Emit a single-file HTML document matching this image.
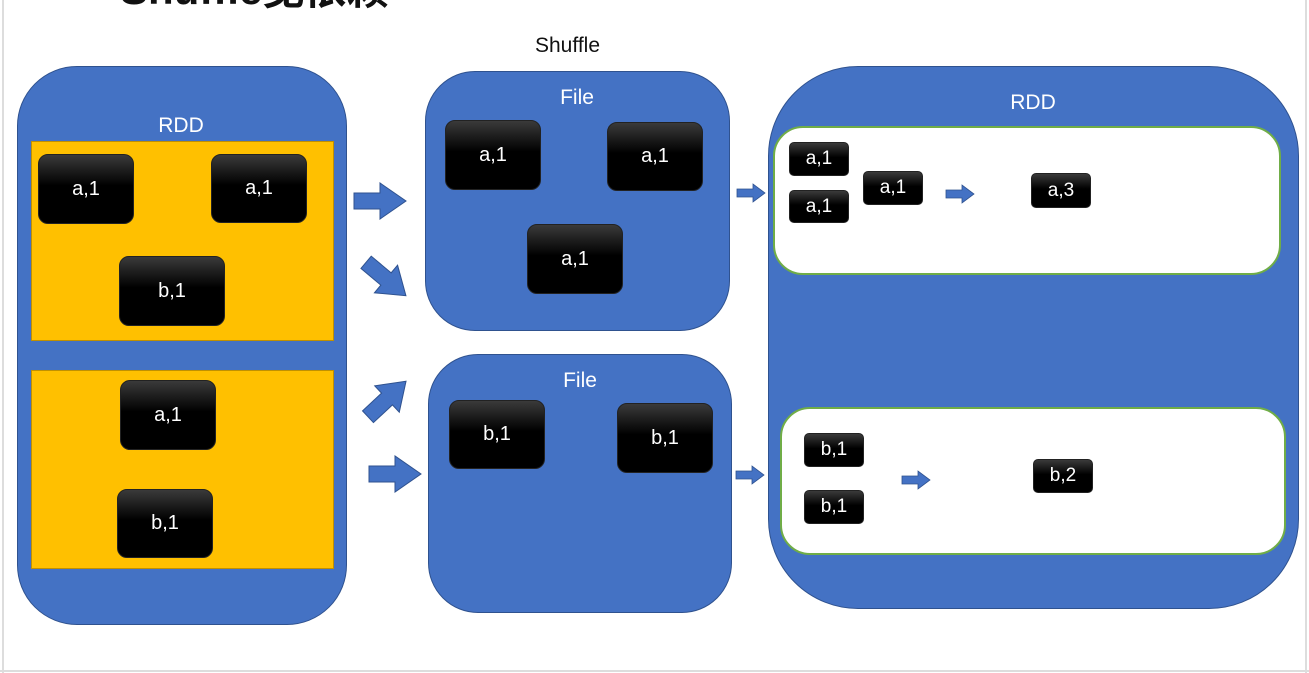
<!DOCTYPE html>
<html><head><meta charset="utf-8"><style>
body{margin:0;width:1309px;height:673px;background:#fff;position:relative;overflow:hidden;font-family:"Liberation Sans","Noto Sans CJK SC",sans-serif}
.a{position:absolute;box-sizing:border-box}
.blue{background:#4472C4;border:1.5px solid #2F528F}
.org{background:#FFC000;border:1.5px solid #C09000}
.wht{background:#fff;border:2px solid #70AD47;border-radius:30px}
.k{position:absolute;box-sizing:border-box;background:linear-gradient(#3a3a3a,#000 45%);border:1px solid #222;border-radius:10px;color:#fff;font-size:20px;display:flex;align-items:center;justify-content:center}
.ks{border-radius:5px;font-size:19px}
.lbl{position:absolute;color:#fff;font-size:21px;transform:translateX(-50%)}
</style></head><body>
<div class="a" style="left:2px;top:0;width:2px;height:673px;background:#ddd"></div>
<div class="a" style="left:1305px;top:0;width:2px;height:673px;background:#ddd"></div>
<div class="a" style="left:0;top:670px;width:1309px;height:2px;background:#ddd"></div>
<div class="a" style="left:120px;top:-44px;font-size:42px;font-weight:bold;color:#111;white-space:nowrap">Shuffle宽依赖</div>
<div class="a" style="left:535px;top:34px;font-size:21px;color:#111">Shuffle</div>

<div class="a blue" style="left:17px;top:66px;width:330px;height:559px;border-radius:60px"></div>
<div class="lbl" style="left:181px;top:114px">RDD</div>
<div class="a org" style="left:31px;top:141px;width:303px;height:200px"></div>
<div class="a org" style="left:31px;top:370px;width:303px;height:199px"></div>
<div class="k" style="left:38px;top:154px;width:96px;height:70px">a,1</div>
<div class="k" style="left:211px;top:154px;width:96px;height:69px">a,1</div>
<div class="k" style="left:119px;top:256px;width:106px;height:70px">b,1</div>
<div class="k" style="left:120px;top:380px;width:96px;height:70px">a,1</div>
<div class="k" style="left:117px;top:489px;width:96px;height:69px">b,1</div>

<div class="a blue" style="left:425px;top:71px;width:305px;height:260px;border-radius:50px"></div>
<div class="lbl" style="left:577px;top:86px">File</div>
<div class="k" style="left:445px;top:120px;width:96px;height:70px">a,1</div>
<div class="k" style="left:607px;top:122px;width:96px;height:69px">a,1</div>
<div class="k" style="left:527px;top:224px;width:96px;height:70px">a,1</div>

<div class="a blue" style="left:428px;top:354px;width:304px;height:259px;border-radius:50px"></div>
<div class="lbl" style="left:580px;top:369px">File</div>
<div class="k" style="left:449px;top:400px;width:96px;height:69px">b,1</div>
<div class="k" style="left:617px;top:403px;width:96px;height:70px">b,1</div>

<div class="a blue" style="left:768px;top:66px;width:531px;height:543px;border-radius:90px"></div>
<div class="lbl" style="left:1033px;top:91px">RDD</div>
<div class="a wht" style="left:773px;top:126px;width:508px;height:149px"></div>
<div class="a wht" style="left:780px;top:407px;width:506px;height:148px"></div>
<div class="k ks" style="left:789px;top:142px;width:60px;height:34px">a,1</div>
<div class="k ks" style="left:789px;top:190px;width:60px;height:33px">a,1</div>
<div class="k ks" style="left:863px;top:171px;width:60px;height:34px">a,1</div>
<div class="k ks" style="left:1031px;top:173px;width:60px;height:35px">a,3</div>
<div class="k ks" style="left:804px;top:433px;width:60px;height:34px">b,1</div>
<div class="k ks" style="left:804px;top:490px;width:60px;height:34px">b,1</div>
<div class="k ks" style="left:1033px;top:459px;width:60px;height:34px">b,2</div>

<svg class="a" width="1309" height="673" style="left:0;top:0">
<defs><polygon id="ar" points="0,-8 -26,-8 -26,8 0,8 0,18 26,0 0,-18" fill="#4472C4" stroke="#2F528F" stroke-width="1"/>
<polygon id="sa" points="0,-4 -16,-4 -16,4 0,4 0,9 12,0 0,-9" fill="#4472C4" stroke="#2F528F" stroke-width="0.8"/></defs>
<use href="#ar" transform="translate(380,201)"/>
<use href="#ar" transform="translate(386,279) rotate(40)"/>
<use href="#ar" transform="translate(387,399) rotate(-43)"/>
<use href="#ar" transform="translate(395,474)"/>
<use href="#sa" transform="translate(753,193)"/>
<use href="#sa" transform="translate(752,475)"/>
<use href="#sa" transform="translate(962,194)"/>
<use href="#sa" transform="translate(918,480)"/>
</svg>
</body></html>
